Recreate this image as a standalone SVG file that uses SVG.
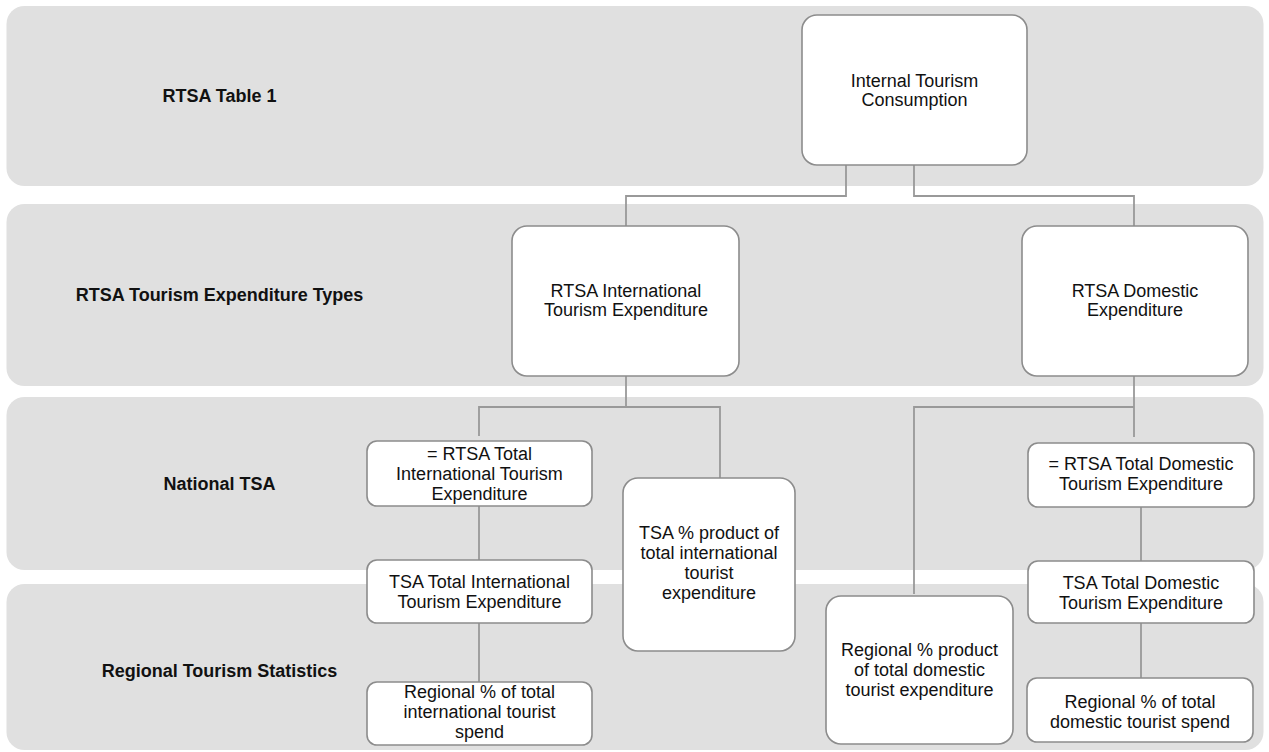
<svg xmlns="http://www.w3.org/2000/svg" width="1269" height="752" viewBox="0 0 1269 752">
<style>
.band{fill:#e0e0e0;}
.lbl{font-family:"Liberation Sans",Arial,sans-serif;font-size:18px;font-weight:bold;fill:#111;text-anchor:middle;}
.box{fill:#ffffff;stroke:#8c8c8c;stroke-width:1.6;}
.t{font-family:"Liberation Sans",Arial,sans-serif;font-size:18px;fill:#111;text-anchor:middle;}
.conn{fill:none;stroke:#999999;stroke-width:1.8;}
</style>
<rect width="1269" height="752" fill="#ffffff"/>
<g id="bands">
<rect class="band" x="6.5" y="6" width="1257" height="180" rx="18"/>
<rect class="band" x="6.5" y="204" width="1257" height="182" rx="18"/>
<rect class="band" x="6.5" y="397" width="1257" height="173" rx="18"/>
<rect class="band" x="6.5" y="584" width="1257" height="166" rx="18"/>
<text class="lbl" x="219.5" y="102">RTSA Table 1</text>
<text class="lbl" x="219.5" y="301">RTSA Tourism Expenditure Types</text>
<text class="lbl" x="219.5" y="490">National TSA</text>
<text class="lbl" x="219.5" y="677">Regional Tourism Statistics</text>
</g>
<g id="connectors">
<path class="conn" d="M846,165 V196 H626 V226"/>
<path class="conn" d="M914,165 V196 H1134 V226"/>
<path class="conn" d="M626,376 V407"/>
<path class="conn" d="M479,436 V407 H720 V478"/>
<path class="conn" d="M1134,376 V437"/>
<path class="conn" d="M914,594 V407 H1134"/>
<path class="conn" d="M479,506 V560"/>
<path class="conn" d="M479,623 V682"/>
<path class="conn" d="M1141,507 V561"/>
<path class="conn" d="M1141,623 V678"/>
</g>
<g id="node-internal-tourism-consumption">
<rect class="box" x="802" y="15" width="225" height="150" rx="15"/>
<text class="t" x="914.5" y="87">Internal Tourism</text>
<text class="t" x="914.5" y="106">Consumption</text>
</g>
<g id="node-rtsa-international">
<rect class="box" x="512" y="226" width="227" height="150" rx="15"/>
<text class="t" x="626" y="297">RTSA International</text>
<text class="t" x="626" y="316">Tourism Expenditure</text>
</g>
<g id="node-rtsa-domestic">
<rect class="box" x="1022" y="226" width="226" height="150" rx="15"/>
<text class="t" x="1135" y="297">RTSA Domestic</text>
<text class="t" x="1135" y="316">Expenditure</text>
</g>
<g id="node-rtsa-total-international">
<rect class="box" x="367" y="441" width="225" height="65" rx="10"/>
<text class="t" x="479.5" y="459.5">= RTSA Total</text>
<text class="t" x="479.5" y="479.5">International Tourism</text>
<text class="t" x="479.5" y="499.5">Expenditure</text>
</g>
<g id="node-tsa-pct-international">
<rect class="box" x="623" y="478" width="172" height="173" rx="15"/>
<text class="t" x="709" y="539">TSA % product of</text>
<text class="t" x="709" y="559">total international</text>
<text class="t" x="709" y="579">tourist</text>
<text class="t" x="709" y="599">expenditure</text>
</g>
<g id="node-tsa-total-international">
<rect class="box" x="367" y="560" width="225" height="63" rx="10"/>
<text class="t" x="479.5" y="588">TSA Total International</text>
<text class="t" x="479.5" y="608">Tourism Expenditure</text>
</g>
<g id="node-regional-pct-international">
<rect class="box" x="367" y="682" width="225" height="63" rx="10"/>
<text class="t" x="479.5" y="698">Regional % of total</text>
<text class="t" x="479.5" y="718">international tourist</text>
<text class="t" x="479.5" y="738">spend</text>
</g>
<g id="node-regional-pct-product-domestic">
<rect class="box" x="826" y="596" width="187" height="148" rx="15"/>
<text class="t" x="919.5" y="656">Regional % product</text>
<text class="t" x="919.5" y="676">of total domestic</text>
<text class="t" x="919.5" y="696">tourist expenditure</text>
</g>
<g id="node-rtsa-total-domestic">
<rect class="box" x="1028" y="443" width="226" height="64" rx="10"/>
<text class="t" x="1141" y="470">= RTSA Total Domestic</text>
<text class="t" x="1141" y="490">Tourism Expenditure</text>
</g>
<g id="node-tsa-total-domestic">
<rect class="box" x="1028" y="561" width="226" height="62" rx="10"/>
<text class="t" x="1141" y="589">TSA Total Domestic</text>
<text class="t" x="1141" y="609">Tourism Expenditure</text>
</g>
<g id="node-regional-pct-domestic">
<rect class="box" x="1027" y="678" width="226" height="64" rx="10"/>
<text class="t" x="1140" y="708">Regional % of total</text>
<text class="t" x="1140" y="728">domestic tourist spend</text>
</g>
</svg>
